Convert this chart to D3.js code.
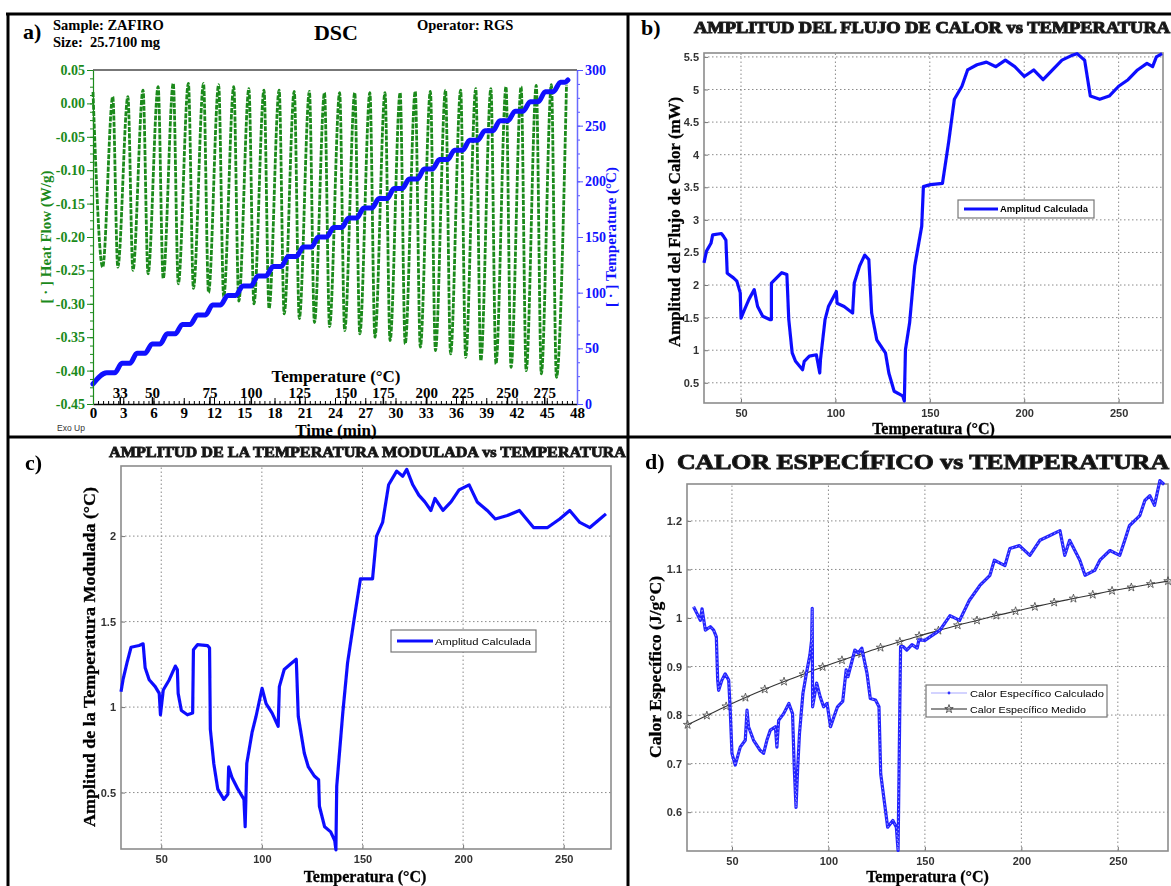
<!DOCTYPE html>
<html>
<head>
<meta charset="utf-8">
<script src="https://cdn.jsdelivr.net/npm/d3@7"></script>
<style>
  body { margin: 0; background: #fff; }
  svg { display: block; }
</style>
</head>
<body>
<div id="chart"></div>
<script>
// ---------- panel a : DSC raw signal ----------
const timeTicks = [0, 3, 6, 9, 12, 15, 18, 21, 24, 27, 30, 33, 36, 39, 42, 45, 48];
const hfTicks = [0.05, 0, -0.05, -0.1, -0.15, -0.2, -0.25, -0.3, -0.35, -0.4, -0.45];
const tempTicks = [0, 50, 100, 150, 200, 250, 300];
const tempLabelVals = [33, 50, 75, 100, 125, 150, 175, 200, 225, 250, 275];
const tempLabelTime = [2.7, 5.9, 11.6, 15.7, 20.5, 25.1, 28.8, 33.1, 36.7, 41.1, 44.8];

const hfStart = [0, 0.017];
const hfTroughTime = [0.96, 2.46, 3.96, 5.46, 6.96, 8.46, 9.96, 11.46, 12.96, 14.46, 15.96, 17.46, 18.96, 20.46, 21.96, 23.46,
  24.96, 26.46, 27.96, 29.46, 30.96, 32.46, 33.96, 35.46, 36.96, 38.46, 39.96, 41.46, 42.96, 44.46, 45.96];
const hfTrough = [-0.245, -0.245, -0.25, -0.255, -0.262, -0.27, -0.277, -0.283, -0.29, -0.296, -0.3, -0.307, -0.315, -0.322, -0.328, -0.334,
  -0.34, -0.345, -0.35, -0.355, -0.36, -0.365, -0.37, -0.375, -0.38, -0.385, -0.39, -0.395, -0.4, -0.405, -0.41];
const hfPeakTime = [1.96, 3.46, 4.96, 6.46, 7.96, 9.46, 10.96, 12.46, 13.96, 15.46, 16.96, 18.46, 19.96, 21.46, 22.96, 24.46,
  25.96, 27.46, 28.96, 30.46, 31.96, 33.46, 34.96, 36.46, 37.96, 39.46, 40.96, 42.46, 43.96, 45.46, 46.96];
const hfPeak = [0.01, 0.01, 0.02, 0.025, 0.03, 0.03, 0.03, 0.028, 0.025, 0.022, 0.02, 0.02, 0.018, 0.018, 0.016, 0.016,
  0.016, 0.016, 0.016, 0.016, 0.018, 0.018, 0.02, 0.02, 0.022, 0.022, 0.025, 0.025, 0.027, 0.028, 0.028];

const tempStart = [0, 18];
const tempStep = [28, 36.5, 45.5, 54, 63, 71.5, 80, 89, 97.5, 106, 115, 123.5, 132.5, 141, 150, 158.5,
  167, 176, 184.5, 193.5, 202, 211, 219.5, 228, 237, 245.5, 254.5, 263, 271.5, 280.5, 289];
const tempEnd = [47.1, 291];

// ---------- panel b : heat flow amplitude ----------
const ampHfTemp = [30.4, 31.7, 34.1, 35, 39.6, 40.9, 42, 42.7, 46, 47.8, 49.6, 50, 51.8, 54.2, 57, 58.8, 61.5, 65.2, 66.1, 66.1,
  71.6, 74.3, 75.3, 77.1, 78.9, 82.6, 83.5, 86.2, 89.9, 91.7, 92.1, 94.5, 96.3, 100.5, 100.9, 104.6, 109.1, 110, 112.8,
  115.5, 117.7, 119.2, 121.9, 126.5, 128.3, 131.1, 135.6, 136.5, 137.1, 139.3, 142, 145.7, 146.6, 150.3, 156.7,
  160, 163, 167, 170, 175, 180, 185, 190, 195, 200, 205, 210, 215, 220, 225, 228, 232, 235, 240, 245, 250, 255, 260, 265, 268, 270, 273];
const ampHf = [2.34, 2.52, 2.64, 2.77, 2.79, 2.74, 2.69, 2.18, 2.11, 2.06, 1.88, 1.49, 1.62, 1.78, 1.93, 1.67, 1.52, 1.47, 1.47, 2.03,
  2.19, 2.16, 1.47, 0.96, 0.83, 0.7, 0.83, 0.91, 0.93, 0.65, 0.86, 1.47, 1.67, 1.9, 1.72, 1.67, 1.57, 2.03, 2.29,
  2.46, 2.39, 1.57, 1.16, 0.96, 0.65, 0.37, 0.3, 0.22, 1.01, 1.42, 2.29, 2.9, 3.51, 3.54, 3.56,
  4.2, 4.85, 5.05, 5.3, 5.38, 5.42, 5.35, 5.45, 5.35, 5.2, 5.3, 5.15, 5.3, 5.45, 5.52, 5.55, 5.45, 4.9, 4.85, 4.9, 5.05, 5.15, 5.3, 5.4, 5.35, 5.5, 5.55];

// ---------- panel c : modulated temperature amplitude ----------
const ampTTemp = [30, 31, 33, 35, 39, 41, 42, 44, 47, 49, 49.6, 51, 54, 57, 58, 58.4, 60, 63, 65.6, 66, 68, 73, 74, 74.4,
  76.1, 78.1, 81.1, 83.1, 83.5, 85.1, 88.1, 91.1, 91.7, 92.5, 95.1, 97.1, 100.1, 102.1, 105.1, 108.1, 108.7, 111.1,
  114.1, 117.1, 118.1, 121.1, 123.1, 126.2, 128.2, 128.6, 131.2, 134.2, 136.2, 136.8, 137.2, 140.2, 142.6, 145.8,
  149, 155, 157, 160, 163, 167, 170, 172, 175, 178, 181, 184, 186, 190, 194, 198, 203, 207, 212, 216, 222, 228, 235, 242, 248, 253, 258, 263, 268, 271];
const ampT = [1.09, 1.16, 1.26, 1.35, 1.36, 1.37, 1.23, 1.16, 1.12, 1.08, 0.955, 1.1, 1.16, 1.24, 1.22, 1.08, 0.98, 0.955, 0.965, 1.335, 1.365, 1.36, 1.345, 0.87,
  0.67, 0.52, 0.46, 0.49, 0.65, 0.59, 0.52, 0.46, 0.3, 0.67, 0.85, 0.945, 1.11, 1.02, 0.965, 0.887, 1.12, 1.22,
  1.25, 1.28, 0.945, 0.73, 0.65, 0.595, 0.575, 0.42, 0.3, 0.27, 0.22, 0.165, 0.536, 0.965, 1.26, 1.51,
  1.75, 1.75, 2.0, 2.08, 2.3, 2.38, 2.35, 2.39, 2.3, 2.24, 2.2, 2.15, 2.22, 2.15, 2.2, 2.27, 2.3, 2.2, 2.15, 2.1, 2.12, 2.15, 2.05, 2.05, 2.1, 2.15, 2.08, 2.05, 2.1, 2.13];

// ---------- panel d : specific heat ----------
const cpCalcTemp = [30.1, 31.9, 33.6, 34.5, 36.2, 38.8, 40.5, 41.9, 42.6, 43.1, 44.8, 46.5, 48.3, 49.1, 50, 51.7, 54.3, 56.9, 57.8,
  58.6, 61.2, 64.7, 66.4, 68.1, 69.9, 72.5, 73.3, 74.2, 76.8, 79.5, 81.4, 82.3, 83.2, 84.1, 85, 86.8, 88.6, 90.4, 91.3, 91.6,
  91.8, 93.9, 95.7, 97.5, 99.3, 101.1, 102.9, 104.7, 107.4, 109.2, 110.1, 113.7, 115.5, 117.3, 120, 121.7, 124.4, 126.2,
  127.1, 128.9, 130.7, 133.4, 135.2, 136.1, 137, 137.4, 138.8, 140.6, 143.3, 146, 146.9, 150, 157.8, 163, 168, 173,
  178.5, 183.7, 186, 191.5, 194, 199, 204.4, 209.6, 214.8, 220, 222.5, 225, 230.3, 233, 238, 240.7, 245.9, 251, 253.6,
  256, 261.4, 264, 266.6, 269, 271.8, 274];
const cpCalc = [1.023, 1.009, 0.995, 1.019, 0.975, 0.982, 0.975, 0.961, 0.872, 0.851, 0.872, 0.885, 0.872, 0.81, 0.721, 0.697, 0.734, 0.748, 0.81,
  0.776, 0.748, 0.727, 0.721, 0.748, 0.769, 0.776, 0.734, 0.789, 0.803, 0.824, 0.803, 0.69, 0.61, 0.693, 0.762, 0.845, 0.886, 0.924, 0.955, 1.02,
  0.817, 0.866, 0.838, 0.817, 0.824, 0.776, 0.797, 0.817, 0.828, 0.893, 0.879, 0.934, 0.928, 0.938, 0.886, 0.834, 0.831, 0.817,
  0.679, 0.624, 0.569, 0.583, 0.569, 0.521, 0.817, 0.941, 0.941, 0.934, 0.945, 0.938, 0.955, 0.954, 0.975, 1.005, 0.995, 1.036,
  1.067, 1.088, 1.119, 1.108, 1.143, 1.149, 1.129, 1.16, 1.17, 1.18, 1.129, 1.16, 1.119, 1.088, 1.098, 1.119, 1.139, 1.129, 1.16,
  1.19, 1.211, 1.242, 1.252, 1.232, 1.283, 1.275];
const cpMedTemp = [27, 37, 47, 57, 67, 77, 87, 97, 107, 117, 127, 137, 147, 157, 167, 177, 187, 197, 207, 217, 227, 237, 247, 257, 267, 276];
const cpMed = [0.78, 0.799, 0.818, 0.836, 0.853, 0.869, 0.884, 0.899, 0.913, 0.926, 0.939, 0.951, 0.963, 0.974, 0.985, 0.995,
  1.005, 1.014, 1.023, 1.032, 1.04, 1.048, 1.056, 1.063, 1.07, 1.076];

const tempAxisTicks = [50, 100, 150, 200, 250];

// ---------- drawing ----------
const W = 1171, H = 886;
const SERIF = '"Liberation Serif", "Times New Roman", serif';
const SANS = '"Liberation Sans", Arial, sans-serif';

const svg = d3.select('#chart').append('svg')
  .attr('width', W).attr('height', H)
  .style('font-family', SERIF);
svg.append('rect').attr('width', W).attr('height', H).attr('fill', '#fff');

const defs = svg.append('defs');
defs.append('filter').attr('id', 'soft').append('feGaussianBlur').attr('stdDeviation', 0.5);
defs.append('filter').attr('id', 'softer').append('feGaussianBlur').attr('stdDeviation', 0.7);

// ===== panel a =====
const green = '#1b8a1b', blue = '#1010ff';
const ax = d3.scaleLinear().domain([0, 48]).range([93, 577]);
const ayHf = d3.scaleLinear().domain([-0.45, 0.05]).range([404, 70]);
const ayT = d3.scaleLinear().domain([0, 300]).range([404, 70]);
const ga = svg.append('g');

ga.append('line').attr('x1', ax(0)).attr('x2', ax(48)).attr('y1', ayHf(0.05)).attr('y2', ayHf(0.05))
  .attr('stroke', '#777').attr('stroke-width', 2);

// heat flow trace through the read extremes
const hfPts = [hfStart];
hfTroughTime.forEach((t, i) => {
  hfPts.push([t, hfTrough[i]]);
  hfPts.push([hfPeakTime[i], hfPeak[i]]);
});
ga.append('path')
  .datum(hfPts)
  .attr('fill', 'none')
  .attr('stroke', green)
  .attr('stroke-width', 2.8)
  .attr('stroke-dasharray', '5,1.3')
  .attr('d', d3.line().x(d => ax(d[0])).y(d => ayHf(d[1])).curve(d3.curveMonotoneX));

// temperature staircase: each plateau around its heat-flow maximum
const tPts = [tempStart];
tempStep.forEach((v, i) => {
  tPts.push([hfPeakTime[i] - 0.6, v]);
  tPts.push([Math.min(hfPeakTime[i] + 0.2, tempEnd[0] - 0.3), v]);
});
tPts.push(tempEnd);
ga.append('path')
  .datum(tPts)
  .attr('fill', 'none')
  .attr('stroke', blue)
  .attr('stroke-width', 5)
  .attr('stroke-linecap', 'round')
  .attr('stroke-linejoin', 'round')
  .attr('d', d3.line().x(d => ax(d[0])).y(d => ayT(d[1])).curve(d3.curveMonotoneX));

// bottom axis (ticks pointing inside)
ga.append('g').attr('transform', `translate(0,404)`)
  .call(d3.axisBottom(ax).tickValues(d3.range(0, 48.01, 0.5)).tickSize(-3).tickSizeOuter(0).tickFormat(''))
  .call(g => g.select('.domain').remove());
ga.append('g').attr('transform', `translate(0,404)`)
  .call(d3.axisBottom(ax).tickValues(timeTicks).tickSize(-6).tickSizeOuter(0).tickPadding(3))
  .call(g => g.select('.domain').attr('stroke-width', 1.5))
  .call(g => g.selectAll('text').attr('font-family', SERIF).attr('font-weight', 'bold').attr('font-size', 15).attr('fill', '#000'));
// temperature marks along the time axis
ga.append('g').selectAll('line').data(tempLabelTime).join('line')
  .attr('x1', d => ax(d)).attr('x2', d => ax(d)).attr('y1', 404).attr('y2', 397)
  .attr('stroke', '#000').attr('stroke-width', 1.5);
ga.append('g').selectAll('text').data(tempLabelVals).join('text')
  .attr('x', (d, i) => ax(tempLabelTime[i])).attr('y', 398)
  .attr('text-anchor', 'middle').attr('font-weight', 'bold').attr('font-size', 15)
  .text(d => d);
ga.append('text').attr('x', 336).attr('y', 382).attr('text-anchor', 'middle')
  .attr('font-weight', 'bold').attr('font-size', 17).text('Temperature (°C)');
ga.append('text').attr('x', 336).attr('y', 436).attr('text-anchor', 'middle')
  .attr('font-weight', 'bold').attr('font-size', 17).text('Time (min)');
ga.append('text').attr('x', 57).attr('y', 431).attr('font-family', SANS).attr('font-size', 8.5).attr('fill', '#333').text('Exo Up');

// left axis heat flow
ga.append('g').attr('transform', 'translate(93,0)')
  .call(d3.axisLeft(ayHf).tickValues(d3.range(-0.45, 0.0501, 0.0125)).tickSize(3).tickSizeOuter(0).tickFormat(''))
  .call(g => g.select('.domain').remove())
  .call(g => g.selectAll('line').attr('stroke', green));
ga.append('g').attr('transform', 'translate(93,0)')
  .call(d3.axisLeft(ayHf).tickValues(hfTicks).tickSize(6).tickSizeOuter(0).tickPadding(2).tickFormat(d => d.toFixed(2)))
  .call(g => g.select('.domain').attr('stroke', green).attr('stroke-width', 1.2))
  .call(g => g.selectAll('line').attr('stroke', green))
  .call(g => g.selectAll('text').attr('font-family', SERIF).attr('font-weight', 'bold').attr('font-size', 14).attr('fill', green));
ga.append('text').attr('transform', 'translate(48,237) rotate(-90)')
  .attr('text-anchor', 'middle').attr('dominant-baseline', 'middle')
  .attr('font-weight', 'bold').attr('font-size', 15).attr('fill', green).text('[ · ] Heat Flow (W/g)');

// right axis temperature
ga.append('g').attr('transform', 'translate(577,0)')
  .call(d3.axisRight(ayT).tickValues(d3.range(0, 300.1, 12.5)).tickSize(3).tickSizeOuter(0).tickFormat(''))
  .call(g => g.select('.domain').remove())
  .call(g => g.selectAll('line').attr('stroke', '#5555ff'));
ga.append('g').attr('transform', 'translate(577,0)')
  .call(d3.axisRight(ayT).tickValues(tempTicks).tickSize(6).tickSizeOuter(0).tickPadding(2))
  .call(g => g.select('.domain').attr('stroke', '#6a6aff').attr('stroke-width', 1.5))
  .call(g => g.selectAll('line').attr('stroke', '#5555ff'))
  .call(g => g.selectAll('text').attr('font-family', SERIF).attr('font-weight', 'bold').attr('font-size', 14).attr('fill', blue));
ga.append('text').attr('transform', 'translate(613,237) rotate(-90)')
  .attr('text-anchor', 'middle').attr('dominant-baseline', 'middle')
  .attr('font-weight', 'bold').attr('font-size', 15).attr('fill', blue).text('[ · ] Temperature (°C)');

// header texts
ga.append('text').attr('x', 23).attr('y', 39).attr('font-weight', 'bold').attr('font-size', 22).text('a)');
ga.append('text').attr('x', 53).attr('y', 30).attr('font-weight', 'bold').attr('font-size', 14.5).text('Sample: ZAFIRO');
ga.append('text').attr('x', 53).attr('y', 47).attr('font-weight', 'bold').attr('font-size', 14.5)
  .attr('xml:space', 'preserve').text('Size:  25.7100 mg');
ga.append('text').attr('x', 336).attr('y', 40).attr('text-anchor', 'middle').attr('font-weight', 'bold').attr('font-size', 22).text('DSC');
ga.append('text').attr('x', 417).attr('y', 30).attr('font-weight', 'bold').attr('font-size', 14.5).text('Operator: RGS');

// ===== MATLAB-style panels =====
function matPanel(p) {
  const x = d3.scaleLinear().domain(p.xDomain).range(p.xRange);
  const y = d3.scaleLinear().domain(p.yDomain).range(p.yRange);
  const [x0, x1] = p.xRange, [yb, yt] = p.yRange;
  const g = svg.append('g').attr('filter', 'url(#soft)');

  g.append('g').selectAll('line').data(p.xTicks).join('line')
    .attr('x1', d => x(d)).attr('x2', d => x(d)).attr('y1', yb).attr('y2', yt)
    .attr('stroke', '#8a8a8a').attr('stroke-width', 1).attr('stroke-dasharray', '1.5,2.5');
  g.append('g').selectAll('line').data(p.yTicks).join('line')
    .attr('x1', x0).attr('x2', x1).attr('y1', d => y(d)).attr('y2', d => y(d))
    .attr('stroke', '#8a8a8a').attr('stroke-width', 1).attr('stroke-dasharray', '1.5,2.5');

  const styleAxis = sel => sel
    .call(s => s.select('.domain').remove())
    .call(s => s.selectAll('line').attr('stroke', '#777'))
    .call(s => s.selectAll('text').attr('font-family', SANS).attr('font-weight', 'bold')
      .attr('font-size', 11).attr('fill', '#333'));
  g.append('g').attr('transform', `translate(0,${yb})`)
    .call(d3.axisBottom(x).tickValues(p.xTicks).tickSize(-4).tickPadding(6).tickSizeOuter(0))
    .call(styleAxis);
  g.append('g').attr('transform', `translate(${x0},0)`)
    .call(d3.axisLeft(y).tickValues(p.yTicks).tickSize(-4).tickPadding(5).tickSizeOuter(0).tickFormat(d => String(d)))
    .call(styleAxis);
  g.append('rect').attr('x', x0).attr('y', yt).attr('width', x1 - x0).attr('height', yb - yt)
    .attr('fill', 'none').attr('stroke', '#8c8c8c').attr('stroke-width', 1.6);

  g.append('text').attr('x', (x0 + x1) / 2 + (p.xLabelDx || 0)).attr('y', p.xLabelY)
    .attr('text-anchor', 'middle').attr('font-weight', 'bold').attr('font-size', 16)
    .attr('stroke', '#000').attr('stroke-width', 0.3).text('Temperatura (°C)');
  g.append('text').attr('transform', `translate(${p.yLabelX},${p.yLabelY}) rotate(-90)`)
    .attr('text-anchor', 'middle').attr('dominant-baseline', 'middle')
    .attr('font-weight', 'bold').attr('font-size', 16)
    .attr('stroke', '#000').attr('stroke-width', 0.3)
    .attr('textLength', p.yLabelLen).attr('lengthAdjust', 'spacingAndGlyphs')
    .text(p.yLabel);
  return {g, x, y};
}

function panelTitle(label, lx, ly, title, tx, ty, tlen, size, heavy) {
  svg.append('text').attr('x', lx).attr('y', ly).attr('font-weight', 'bold').attr('font-size', 22).text(label);
  svg.append('text').attr('x', tx).attr('y', ty).attr('font-weight', 'bold').attr('font-size', size)
    .attr('textLength', tlen).attr('lengthAdjust', 'spacingAndGlyphs')
    .attr('fill', '#111').attr('stroke', '#222').attr('stroke-width', heavy)
    .attr('filter', 'url(#softer)')
    .text(title);
}

// ----- panel b -----
const pb = matPanel({
  xDomain: [30.4, 273.5], xRange: [704, 1163],
  yDomain: [0.19, 5.56], yRange: [403, 53],
  xTicks: tempAxisTicks, yTicks: [0.5, 1, 1.5, 2, 2.5, 3, 3.5, 4, 4.5, 5, 5.5],
  xLabelY: 434, xLabelDx: 0,
  yLabel: 'Amplitud del Flujo de Calor (mW)', yLabelX: 676, yLabelY: 222, yLabelLen: 250
});
pb.g.append('path').datum(d3.zip(ampHfTemp, ampHf))
  .attr('fill', 'none').attr('stroke', blue).attr('stroke-width', 3.2).attr('stroke-linejoin', 'round')
  .attr('d', d3.line().x(d => pb.x(d[0])).y(d => pb.y(d[1])));
{
  const lg = pb.g.append('g');
  lg.append('rect').attr('x', 958).attr('y', 200).attr('width', 136).attr('height', 18)
    .attr('fill', '#fff').attr('stroke', '#777').attr('stroke-width', 1.2);
  lg.append('line').attr('x1', 964).attr('x2', 998).attr('y1', 209).attr('y2', 209).attr('stroke', blue).attr('stroke-width', 3);
  lg.append('text').attr('x', 1000).attr('y', 212).attr('font-family', SANS).attr('font-weight', 'bold').attr('font-size', 8.5)
    .attr('textLength', 88).attr('lengthAdjust', 'spacingAndGlyphs').text('Amplitud Calculada');
}
panelTitle('b)', 641, 35, 'AMPLITUD DEL FLUJO DE CALOR vs TEMPERATURA', 694, 33, 476, 16, 1.1);

// ----- panel c -----
const pc = matPanel({
  xDomain: [30, 273.5], xRange: [121, 611],
  yDomain: [0.17, 2.41], yRange: [849, 466],
  xTicks: tempAxisTicks, yTicks: [0.5, 1, 1.5, 2],
  xLabelY: 882, xLabelDx: -1,
  yLabel: 'Amplitud de la Temperatura Modulada (°C)', yLabelX: 91, yLabelY: 657, yLabelLen: 340
});
pc.g.append('path').datum(d3.zip(ampTTemp, ampT))
  .attr('fill', 'none').attr('stroke', blue).attr('stroke-width', 3.2).attr('stroke-linejoin', 'round')
  .attr('d', d3.line().x(d => pc.x(d[0])).y(d => pc.y(d[1])));
{
  const lg = pc.g.append('g');
  lg.append('rect').attr('x', 391).attr('y', 630).attr('width', 145).attr('height', 22)
    .attr('fill', '#fff').attr('stroke', '#777').attr('stroke-width', 1.2);
  lg.append('line').attr('x1', 397).attr('x2', 433).attr('y1', 641).attr('y2', 641).attr('stroke', blue).attr('stroke-width', 3);
  lg.append('text').attr('x', 435).attr('y', 644.5).attr('font-family', SANS).attr('font-size', 9.5)
    .attr('textLength', 96).attr('lengthAdjust', 'spacingAndGlyphs').text('Amplitud Calculada');
}
panelTitle('c)', 25, 470, 'AMPLITUD DE LA TEMPERATURA MODULADA vs TEMPERATURA', 109, 457, 517, 15, 0.9);

// ----- panel d -----
const pd = matPanel({
  xDomain: [26.7, 276], xRange: [687, 1168],
  yDomain: [0.52, 1.276], yRange: [851, 484],
  xTicks: tempAxisTicks, yTicks: [0.6, 0.7, 0.8, 0.9, 1, 1.1, 1.2],
  xLabelY: 882, xLabelDx: 0,
  yLabel: 'Calor Específico (J/g°C)', yLabelX: 657, yLabelY: 667, yLabelLen: 182
});
const medLine = d3.line().x(d => pd.x(d[0])).y(d => pd.y(d[1])).curve(d3.curveMonotoneX);
pd.g.append('path').datum(d3.zip(cpMedTemp, cpMed))
  .attr('fill', 'none').attr('stroke', '#333').attr('stroke-width', 1.1).attr('d', medLine);
pd.g.append('g').selectAll('path').data(d3.zip(cpMedTemp, cpMed)).join('path')
  .attr('transform', d => `translate(${pd.x(d[0])},${pd.y(d[1])})`)
  .attr('d', d3.symbol(d3.symbolStar, 22))
  .attr('fill', 'none').attr('stroke', '#444').attr('stroke-width', 0.8);
const calcLine = d3.line().x(d => pd.x(d[0])).y(d => pd.y(d[1]));
pd.g.append('path').datum(d3.zip(cpCalcTemp, cpCalc))
  .attr('fill', 'none').attr('stroke', '#2424ff').attr('stroke-width', 3.2).attr('stroke-linejoin', 'round').attr('d', calcLine);
pd.g.append('path').datum(d3.zip(cpCalcTemp, cpCalc))
  .attr('fill', 'none').attr('stroke', '#a0a0ff').attr('stroke-width', 1).attr('stroke-dasharray', '1.5,2.5').attr('d', calcLine);
{
  const lg = pd.g.append('g');
  lg.append('rect').attr('x', 926).attr('y', 685).attr('width', 181).attr('height', 32)
    .attr('fill', '#fff').attr('stroke', '#777').attr('stroke-width', 1.2);
  lg.append('line').attr('x1', 931).attr('x2', 967).attr('y1', 693).attr('y2', 693).attr('stroke', '#c4c4ff').attr('stroke-width', 1.5);
  lg.append('circle').attr('cx', 949).attr('cy', 693).attr('r', 1.4).attr('fill', '#3030ff');
  lg.append('line').attr('x1', 931).attr('x2', 967).attr('y1', 709).attr('y2', 709).attr('stroke', '#222').attr('stroke-width', 1.1);
  lg.append('path').attr('transform', 'translate(949,709)').attr('d', d3.symbol(d3.symbolStar, 22))
    .attr('fill', 'none').attr('stroke', '#333').attr('stroke-width', 0.8);
  lg.append('text').attr('x', 970).attr('y', 696.5).attr('font-family', SANS).attr('font-size', 9.5)
    .attr('textLength', 134).attr('lengthAdjust', 'spacingAndGlyphs').text('Calor Específico Calculado');
  lg.append('text').attr('x', 970).attr('y', 712.5).attr('font-family', SANS).attr('font-size', 9.5)
    .attr('textLength', 116).attr('lengthAdjust', 'spacingAndGlyphs').text('Calor Específico Medido');
}
panelTitle('d)', 645, 469, 'CALOR ESPECÍFICO vs TEMPERATURA', 677, 469, 492, 22, 1.0);

// ===== table frame =====
const frame = svg.append('g').attr('stroke', '#000').attr('stroke-width', 3);
frame.append('line').attr('x1', 6).attr('x2', W).attr('y1', 14).attr('y2', 14);
frame.append('line').attr('x1', 8).attr('x2', 8).attr('y1', 13).attr('y2', H);
frame.append('line').attr('x1', 628).attr('x2', 628).attr('y1', 13).attr('y2', H);
frame.append('line').attr('x1', 7).attr('x2', W).attr('y1', 437).attr('y2', 437);
</script>
</body>
</html>
